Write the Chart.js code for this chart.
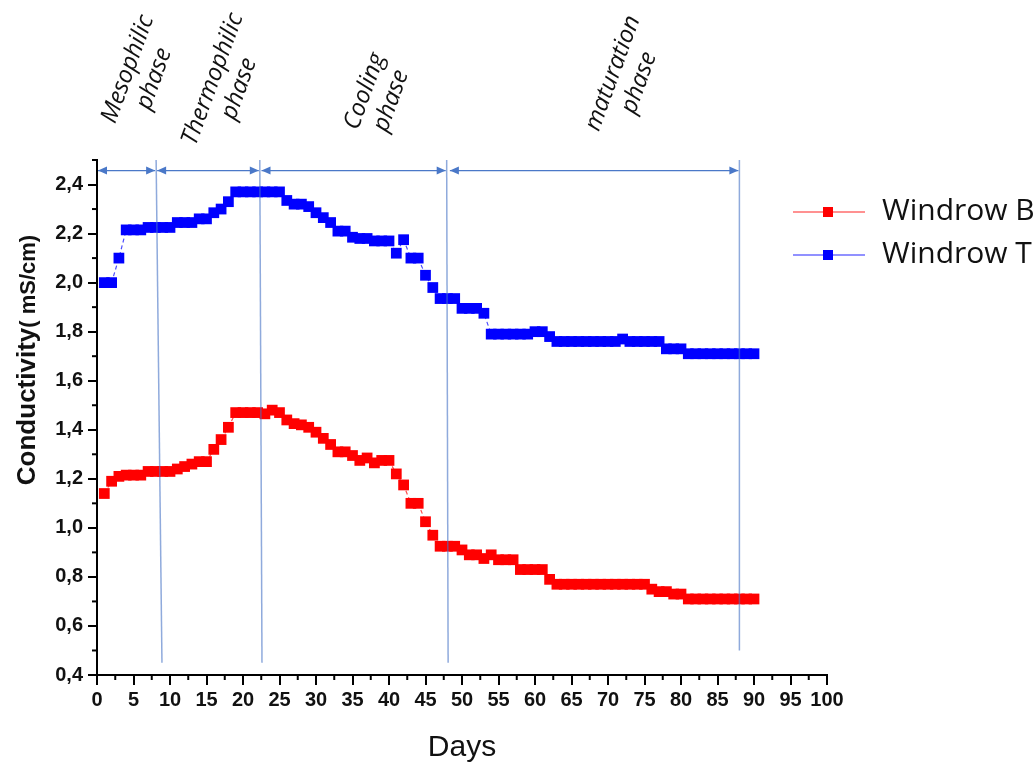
<!DOCTYPE html>
<html>
<head>
<meta charset="utf-8">
<title>Conductivity</title>
<script src="https://cdn.jsdelivr.net/npm/chart.js@4.4.1/dist/chart.umd.min.js"></script>
<style>
  body { margin: 0; background: #fff; }
  #wrap { width: 1035px; height: 767px; }
</style>
</head>
<body>
<div id="wrap"><canvas id="conductivityChart" width="1035" height="767"></canvas></div>
<script>
// sampling days
const days = [1, 2, 3, 4, 5, 6, 7, 8, 9, 10, 11, 12, 13, 14, 15, 16, 17, 18, 19, 20,
    21, 22, 23, 24, 25, 26, 27, 28, 29, 30, 31, 32, 33, 34, 35, 36, 37, 38, 39, 40,
    41, 42, 43, 44, 45, 46, 47, 48, 49, 50, 51, 52, 53, 54, 55, 56, 57, 58, 59, 60,
    61, 62, 63, 64, 65, 66, 67, 68, 69, 70, 71, 72, 73, 74, 75, 76, 77, 78, 79, 80,
    81, 82, 83, 84, 85, 86, 87, 88, 89, 90];

// conductivity (mS/cm)
const windrowB = [1.14, 1.19, 1.21, 1.215, 1.215, 1.215, 1.23, 1.23, 1.23, 1.23,
    1.24, 1.25, 1.26, 1.27, 1.27, 1.32, 1.36, 1.41, 1.47, 1.47,
    1.47, 1.47, 1.465, 1.48, 1.47, 1.44, 1.425, 1.42, 1.41, 1.39,
    1.365, 1.34, 1.31, 1.31, 1.295, 1.275, 1.285, 1.265, 1.275, 1.275,
    1.22, 1.175, 1.10, 1.10, 1.025, 0.97, 0.925, 0.925, 0.925, 0.91,
    0.89, 0.89, 0.875, 0.89, 0.87, 0.87, 0.87, 0.83, 0.83, 0.83,
    0.83, 0.79, 0.77, 0.77, 0.77, 0.77, 0.77, 0.77, 0.77, 0.77,
    0.77, 0.77, 0.77, 0.77, 0.77, 0.75, 0.74, 0.74, 0.73, 0.73,
    0.71, 0.71, 0.71, 0.71, 0.71, 0.71, 0.71, 0.71, 0.71, 0.71];

const windrowT = [2.00, 2.00, 2.10, 2.215, 2.215, 2.215, 2.225, 2.225, 2.225, 2.225,
    2.245, 2.245, 2.245, 2.26, 2.26, 2.285, 2.30, 2.33, 2.37, 2.37,
    2.37, 2.37, 2.37, 2.37, 2.37, 2.335, 2.32, 2.32, 2.31, 2.285,
    2.265, 2.245, 2.21, 2.21, 2.185, 2.18, 2.18, 2.17, 2.17, 2.17,
    2.12, 2.175, 2.10, 2.10, 2.03, 1.98, 1.935, 1.935, 1.935, 1.895,
    1.895, 1.895, 1.875, 1.79, 1.79, 1.79, 1.79, 1.79, 1.79, 1.80,
    1.80, 1.78, 1.76, 1.76, 1.76, 1.76, 1.76, 1.76, 1.76, 1.76,
    1.76, 1.77, 1.76, 1.76, 1.76, 1.76, 1.76, 1.73, 1.73, 1.73,
    1.71, 1.71, 1.71, 1.71, 1.71, 1.71, 1.71, 1.71, 1.71, 1.71];

const seriesNames = ['Windrow B', 'Windrow T'];

const xTicks = [0, 5, 10, 15, 20, 25, 30, 35, 40, 45, 50, 55, 60, 65, 70, 75, 80, 85, 90, 95, 100];
const yTicks = [0.4, 0.6, 0.8, 1.0, 1.2, 1.4, 1.6, 1.8, 2.0, 2.2, 2.4];

// composting phases (day boundaries)
const phaseNames = [['Mesophilic', 'phase'], ['Thermophilic', 'phase'], ['Cooling', 'phase'], ['maturation', 'phase']];
const phaseFrom = [0, 8.1, 22.4, 48.2];
const phaseTo = [8.1, 22.3, 47.9, 88.0];
const lineTopDay = [8.1, 22.3, 47.9, 88.0];
const lineBottomDay = [8.9, 22.6, 48.1, 88.0];
const lineBottomValue = [0.45, 0.45, 0.45, 0.5];

const ARROW_VALUE = 2.457;
const labelCentres = [[141, 74], [226, 84], [378, 96], [626, 78]];

const tickFont = { family: '"Liberation Sans", Arial, sans-serif', size: 20, weight: 'bold' };

function toPoints(values) {
    return days.map((d, i) => ({ x: d, y: values[i] }));
}

function fmt(v) {
    return v.toFixed(1).replace('.', ',');
}

const phasePlugin = {
    id: 'phases',
    afterDatasetsDraw(chart) {
        const { ctx, scales: { x, y } } = chart;
        ctx.save();
        // vertical phase limits
        ctx.strokeStyle = 'rgba(68,114,196,0.6)';
        ctx.lineWidth = 1.5;
        for (let i = 0; i < lineTopDay.length; i++) {
            ctx.beginPath();
            ctx.moveTo(x.getPixelForValue(lineTopDay[i]), y.getPixelForValue(2.5));
            ctx.lineTo(x.getPixelForValue(lineBottomDay[i]), y.getPixelForValue(lineBottomValue[i]));
            ctx.stroke();
        }
        // double arrows
        const ay = y.getPixelForValue(ARROW_VALUE);
        ctx.strokeStyle = '#4a78c8';
        ctx.fillStyle = '#4a78c8';
        ctx.lineWidth = 1.2;
        for (let i = 0; i < phaseFrom.length; i++) {
            const x1 = x.getPixelForValue(phaseFrom[i]) + 1;
            const x2 = x.getPixelForValue(phaseTo[i]) - 1;
            ctx.beginPath();
            ctx.moveTo(x1, ay);
            ctx.lineTo(x2, ay);
            ctx.stroke();
            ctx.beginPath();
            ctx.moveTo(x1, ay);
            ctx.lineTo(x1 + 9, ay - 4);
            ctx.lineTo(x1 + 9, ay + 4);
            ctx.closePath();
            ctx.fill();
            ctx.beginPath();
            ctx.moveTo(x2, ay);
            ctx.lineTo(x2 - 9, ay - 4);
            ctx.lineTo(x2 - 9, ay + 4);
            ctx.closePath();
            ctx.fill();
        }
        ctx.restore();
    },
    afterDraw(chart) {
        const { ctx, scales: { x, y } } = chart;
        ctx.save();
        // minor ticks
        ctx.strokeStyle = '#000';
        ctx.lineWidth = 2;
        for (let i = 0; i < xTicks.length - 1; i++) {
            const px = x.getPixelForValue((xTicks[i] + xTicks[i + 1]) / 2);
            ctx.beginPath();
            ctx.moveTo(px, y.bottom);
            ctx.lineTo(px, y.bottom + 5);
            ctx.stroke();
        }
        for (let i = 0; i < yTicks.length; i++) {
            const py = y.getPixelForValue(yTicks[i] + 0.1);
            ctx.beginPath();
            ctx.moveTo(x.left, py);
            ctx.lineTo(x.left - 5, py);
            ctx.stroke();
        }

        // phase labels
        ctx.fillStyle = '#111';
        ctx.font = 'italic 24px "Open Sans", sans-serif';
        ctx.textAlign = 'center';
        ctx.textBaseline = 'middle';
        phaseNames.forEach((lines, i) => {
            ctx.save();
            ctx.translate(labelCentres[i][0], labelCentres[i][1]);
            ctx.rotate(-70 * Math.PI / 180);
            ctx.fillText(lines[0], 0, -14);
            ctx.fillText(lines[1], 0, 14);
            ctx.restore();
        });

        // y axis title
        ctx.save();
        ctx.translate(28, 360);
        ctx.rotate(-Math.PI / 2);
        ctx.textAlign = 'left';
        ctx.textBaseline = 'middle';
        ctx.fillStyle = '#111';
        const f1 = 'bold 26px "Liberation Sans", Arial, sans-serif';
        const f2 = 'bold 22px "Liberation Sans", Arial, sans-serif';
        ctx.font = f1;
        const w1 = ctx.measureText('Conductivity').width;
        ctx.font = f2;
        const w2 = ctx.measureText('( mS/cm)').width;
        const start = -(w1 + w2) / 2;
        ctx.font = f1;
        ctx.fillText('Conductivity', start, 0);
        ctx.font = f2;
        ctx.fillText('( mS/cm)', start + w1, 1);
        ctx.restore();

        // x axis title
        ctx.font = '30px "Liberation Sans", Arial, sans-serif';
        ctx.fillStyle = '#111';
        ctx.textAlign = 'center';
        ctx.textBaseline = 'middle';
        ctx.fillText('Days', (x.left + x.right) / 2, 748);

        // legend
        const legendY = [212, 255];
        ctx.textAlign = 'left';
        ctx.font = '30px "Open Sans", sans-serif';
        chart.data.datasets.forEach((ds, i) => {
            const ly = legendY[i];
            ctx.strokeStyle = ds.legendLine;
            ctx.lineWidth = 1.5;
            ctx.beginPath();
            ctx.moveTo(793, ly);
            ctx.lineTo(865, ly);
            ctx.stroke();
            ctx.fillStyle = ds.backgroundColor;
            ctx.fillRect(823, ly - 5, 10, 10);
            ctx.fillStyle = '#111';
            ctx.fillText(ds.label, 882, ly - 1);
        });
        ctx.restore();
    }
};

new Chart(document.getElementById('conductivityChart'), {
    type: 'line',
    data: {
        datasets: [
            {
                label: seriesNames[0],
                data: toPoints(windrowB),
                borderColor: 'rgba(255,0,0,0.7)',
                backgroundColor: '#ff0000',
                legendLine: 'rgba(255,60,60,0.75)',
                borderWidth: 1.2,
                borderDash: [4, 3],
                pointStyle: 'rect',
                pointRadius: 7.6,
                pointBorderWidth: 0,
                pointBackgroundColor: '#ff0000',
                pointHoverRadius: 7.6,
                tension: 0
            },
            {
                label: seriesNames[1],
                data: toPoints(windrowT),
                borderColor: 'rgba(0,0,255,0.7)',
                backgroundColor: '#0000ff',
                legendLine: 'rgba(60,60,255,0.75)',
                borderWidth: 1.2,
                borderDash: [4, 3],
                pointStyle: 'rect',
                pointRadius: 7.6,
                pointBorderWidth: 0,
                pointBackgroundColor: '#0000ff',
                pointHoverRadius: 7.6,
                tension: 0
            }
        ]
    },
    options: {
        responsive: false,
        animation: false,
        devicePixelRatio: 1,
        layout: { padding: { left: 0, right: 208, top: 160, bottom: 0 } },
        plugins: {
            legend: { display: false },
            tooltip: { enabled: false }
        },
        scales: {
            x: {
                type: 'linear',
                min: 0,
                max: 100,
                afterBuildTicks: s => { s.ticks = xTicks.map(v => ({ value: v })); },
                afterFit: s => { s.height = 92; },
                ticks: { font: tickFont, color: '#111', maxRotation: 0, autoSkip: false, padding: 3 },
                grid: { drawOnChartArea: false, color: '#000', lineWidth: 2, tickLength: 10 },
                border: { color: '#000', width: 2 }
            },
            y: {
                type: 'linear',
                min: 0.4,
                max: 2.5,
                afterBuildTicks: s => { s.ticks = yTicks.map(v => ({ value: v })); },
                afterFit: s => { s.width = 97; },
                ticks: { font: tickFont, color: '#111', padding: 5, callback: v => fmt(v) },
                grid: { drawOnChartArea: false, color: '#000', lineWidth: 2, tickLength: 9 },
                border: { color: '#000', width: 2 }
            }
        }
    },
    plugins: [phasePlugin]
});
</script>
</body>
</html>
